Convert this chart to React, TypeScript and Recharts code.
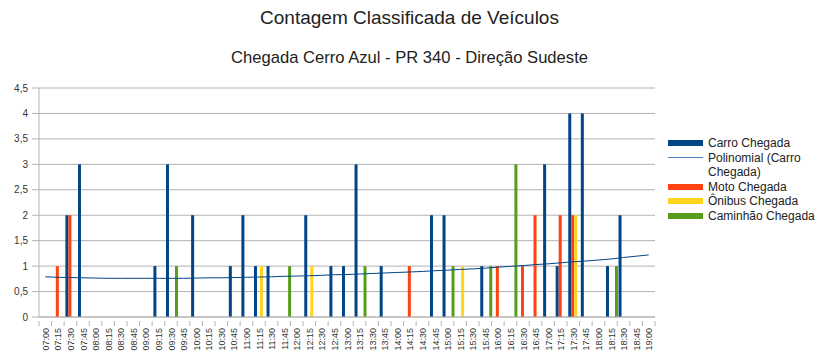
import React from "react";
import {
  ComposedChart,
  Bar,
  Line,
  XAxis,
  YAxis,
  CartesianGrid,
} from "recharts";

// 15-minute intervals, 07:00 to 19:00
const horarios = [
  "07:00", "07:15", "07:30", "07:45", "08:00", "08:15", "08:30", "08:45",
  "09:00", "09:15", "09:30", "09:45", "10:00", "10:15", "10:30", "10:45",
  "11:00", "11:15", "11:30", "11:45", "12:00", "12:15", "12:30", "12:45",
  "13:00", "13:15", "13:30", "13:45", "14:00", "14:15", "14:30", "14:45",
  "15:00", "15:15", "15:30", "15:45", "16:00", "16:15", "16:30", "16:45",
  "17:00", "17:15", "17:30", "17:45", "18:00", "18:15", "18:30", "18:45",
  "19:00",
];

const carro = [
  0, 0, 2, 3, 0, 0, 0, 0, 0, 1, 3, 0, 2, 0, 0, 1,
  2, 1, 1, 0, 0, 2, 0, 1, 1, 3, 0, 1, 0, 0, 0, 2,
  2, 0, 0, 1, 0, 0, 0, 0, 3, 1, 4, 4, 0, 1, 2, 0,
  0,
];

const moto = [
  0, 1, 2, 0, 0, 0, 0, 0, 0, 0, 0, 0, 0, 0, 0, 0,
  0, 0, 0, 0, 0, 0, 0, 0, 0, 0, 0, 0, 0, 1, 0, 0,
  0, 0, 0, 0, 1, 0, 1, 2, 0, 2, 2, 0, 0, 0, 0, 0,
  0,
];

const onibus = [
  0, 0, 0, 0, 0, 0, 0, 0, 0, 0, 0, 0, 0, 0, 0, 0,
  0, 1, 0, 0, 0, 1, 0, 0, 0, 0, 0, 0, 0, 0, 0, 0,
  0, 1, 0, 0, 0, 0, 0, 0, 0, 0, 2, 0, 0, 0, 0, 0,
  0,
];

const caminhao = [
  0, 0, 0, 0, 0, 0, 0, 0, 0, 0, 1, 0, 0, 0, 0, 0,
  0, 0, 0, 1, 0, 0, 0, 0, 0, 1, 0, 0, 0, 0, 0, 0,
  1, 0, 0, 1, 0, 3, 0, 0, 0, 0, 0, 0, 0, 1, 0, 0,
  0,
];

// Polynomial trendline of "Carro Chegada"
const tendenciaCarro = [
  0.79, 0.78, 0.775, 0.77, 0.765, 0.76, 0.76, 0.76, 0.76, 0.76, 0.76, 0.76,
  0.765, 0.77, 0.77, 0.775, 0.78, 0.785, 0.79, 0.8, 0.805, 0.81, 0.82, 0.83,
  0.835, 0.845, 0.855, 0.865, 0.875, 0.885, 0.895, 0.91, 0.92, 0.935, 0.945,
  0.96, 0.98, 0.995, 1.01, 1.03, 1.045, 1.065, 1.085, 1.1, 1.12, 1.14, 1.17,
  1.195, 1.22,
];

const yTicks = [0, 0.5, 1, 1.5, 2, 2.5, 3, 3.5, 4, 4.5];

const cores = {
  carro: "#004586",
  moto: "#ff420e",
  onibus: "#ffd320",
  caminhao: "#579d1c",
  tendencia: "#004586",
  tendenciaLegenda: "#5080c0",
};

const data = horarios.map((h, i) => ({
  horario: h,
  carro: carro[i],
  moto: moto[i],
  onibus: onibus[i],
  caminhao: caminhao[i],
  tendencia: tendenciaCarro[i],
}));

const FONT = "'Liberation Sans', Arial, sans-serif";
const HALF_BAND = 616 / horarios.length / 2;

const XTick = (props: any) => {
  const { x, y, payload, index } = props;
  const last = index === horarios.length - 1;
  return (
    <g>
      <line x1={x - HALF_BAND} y1={y - 4} x2={x - HALF_BAND} y2={y + 1} stroke="#b3b3b3" />
      {last && (
        <line x1={x + HALF_BAND} y1={y - 4} x2={x + HALF_BAND} y2={y + 1} stroke="#b3b3b3" />
      )}
      <text
        x={0}
        y={0}
        transform={`translate(${x + 3.5},${y + 3}) rotate(-90)`}
        textAnchor="end"
        fontSize={9}
        fontFamily={FONT}
        fill="#333"
      >
        {payload.value}
      </text>
    </g>
  );
};

const legendItems = [
  { label: ["Carro Chegada"], color: cores.carro, kind: "bar" },
  { label: ["Polinomial (Carro", "Chegada)"], color: cores.tendenciaLegenda, kind: "line" },
  { label: ["Moto Chegada"], color: cores.moto, kind: "bar" },
  { label: ["Ônibus Chegada"], color: cores.onibus, kind: "bar" },
  { label: ["Caminhão Chegada"], color: cores.caminhao, kind: "bar" },
];

const ChartLegend = () => (
  <div
    style={{
      position: "absolute",
      left: 668,
      top: 136,
      fontFamily: FONT,
      fontSize: 12,
      color: "#222",
      lineHeight: "14.5px",
    }}
  >
    {legendItems.map((it) => (
      <div key={it.label.join(" ")} style={{ display: "flex", alignItems: "flex-start" }}>
        <div
          style={{
            width: 35,
            height: 14.5,
            display: "flex",
            alignItems: "center",
            marginRight: 5,
            flexShrink: 0,
          }}
        >
          <div
            style={{
              width: 35,
              height: it.kind === "bar" ? 6 : 1,
              background: it.color,
            }}
          />
        </div>
        <div>
          {it.label.map((l) => (
            <div key={l}>{l}</div>
          ))}
        </div>
      </div>
    ))}
  </div>
);

export default function App() {
  return (
    <div
      style={{
        position: "absolute",
        left: 0,
        top: 0,
        width: 819,
        height: 358,
        background: "#fff",
        fontFamily: FONT,
      }}
    >
      <div
        style={{
          position: "absolute",
          top: 7,
          width: 819,
          textAlign: "center",
          fontSize: 19,
          color: "#222",
        }}
      >
        Contagem Classificada de Veículos
      </div>
      <div
        style={{
          position: "absolute",
          top: 48,
          width: 819,
          textAlign: "center",
          fontSize: 16.6,
          color: "#222",
        }}
      >
        Chegada Cerro Azul - PR 340 - Direção Sudeste
      </div>
      <div style={{ position: "absolute", left: 0, top: 0 }}>
        <ComposedChart
          width={819}
          height={358}
          data={data}
          margin={{ top: 88, right: 164, bottom: 0, left: 0 }}
          barCategoryGap="10%"
          barGap={0}
        >
          <CartesianGrid vertical={false} stroke="#b3b3b3" />
          <XAxis
            dataKey="horario"
            interval={0}
            height={41}
            tickLine={false}
            axisLine={{ stroke: "#b3b3b3" }}
            tick={<XTick />}
          />
          <YAxis
            domain={[0, 4.5]}
            ticks={yTicks}
            width={39}
            tickSize={7}
            tickMargin={4}
            tickLine={{ stroke: "#b3b3b3" }}
            axisLine={{ stroke: "#b3b3b3" }}
            tick={{ fontSize: 10, fill: "#333", fontFamily: FONT }}
            tickFormatter={(v: number) => String(v).replace(".", ",")}
            interval={0}
          />
          <YAxis
            yAxisId="borda"
            orientation="right"
            width={0}
            tick={false}
            tickLine={false}
            axisLine={{ stroke: "#b3b3b3" }}
            domain={[0, 4.5]}
          />
          <Bar dataKey="carro" name="Carro Chegada" fill={cores.carro} isAnimationActive={false} />
          <Bar dataKey="moto" name="Moto Chegada" fill={cores.moto} isAnimationActive={false} />
          <Bar dataKey="onibus" name="Ônibus Chegada" fill={cores.onibus} isAnimationActive={false} />
          <Bar dataKey="caminhao" name="Caminhão Chegada" fill={cores.caminhao} isAnimationActive={false} />
          <Line
            dataKey="tendencia"
            name="Polinomial (Carro Chegada)"
            type="monotone"
            stroke={cores.tendencia}
            strokeWidth={1}
            dot={false}
            activeDot={false}
            isAnimationActive={false}
          />
        </ComposedChart>
      </div>
      <ChartLegend />
    </div>
  );
}
